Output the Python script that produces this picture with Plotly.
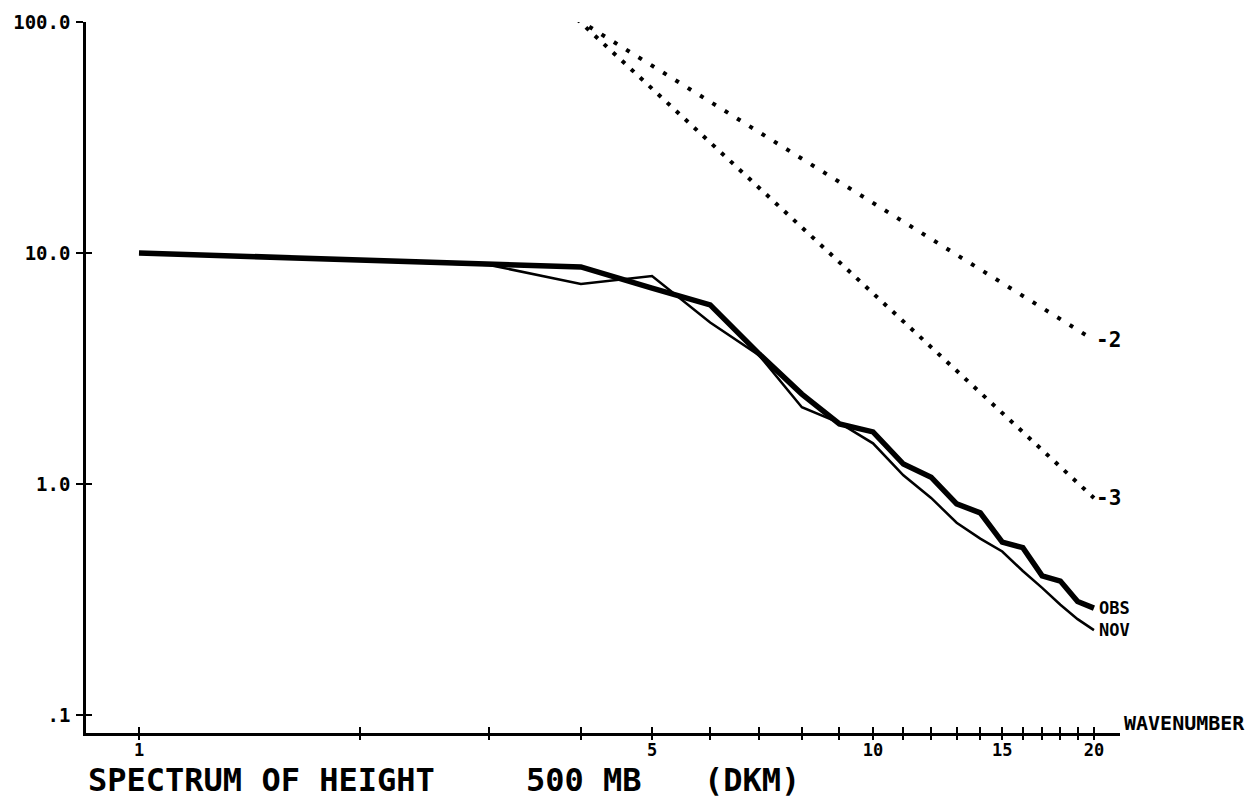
import numpy as np
import plotly.graph_objects as go

# ---- data ----
wavenumber = list(range(1, 21))
obs = [10.0, 9.3, 8.95, 8.7, 7.05, 5.96, 3.65, 2.45, 1.82, 1.68,
       1.22, 1.07, 0.82, 0.75, 0.56, 0.53, 0.40, 0.38, 0.31, 0.29]
nov = [10.0, 9.3, 8.87, 7.35, 7.95, 5.0, 3.6, 2.15, 1.84, 1.5,
       1.09, 0.87, 0.68, 0.58, 0.51, 0.42, 0.355, 0.30, 0.26, 0.233]

slope_x = [3.95, 20]
slope_m2 = [103, 4.2]
slope_m3 = [103, 0.87]

x_tickvals = list(range(1, 21))
x_ticktext = [str(k) if k in (1, 5, 10, 15, 20) else "" for k in x_tickvals]
y_tickvals = [0.1, 1, 10, 100]
y_ticktext = [".1", "1.0", "10.0", "100.0"]

FONT = "DejaVu Sans Mono"
X_RANGE = [-0.0722, 1.3365]
Y_RANGE = [-1.078, 2.0]

fig = go.Figure()

fig.add_trace(go.Scatter(x=slope_x, y=slope_m2, mode="lines",
                         line=dict(color="black", width=4, dash="4px,10.5px"),
                         showlegend=False, hoverinfo="skip"))
fig.add_trace(go.Scatter(x=slope_x, y=slope_m3, mode="lines",
                         line=dict(color="black", width=4, dash="4px,8.3px"),
                         showlegend=False, hoverinfo="skip"))
fig.add_trace(go.Scatter(x=wavenumber, y=nov, mode="lines",
                         line=dict(color="black", width=2.5),
                         showlegend=False))
fig.add_trace(go.Scatter(x=wavenumber, y=obs, mode="lines",
                         line=dict(color="black", width=5.5),
                         showlegend=False))
# empty trace so the overlay axes (other half of the crossing ticks) are drawn
fig.add_trace(go.Scatter(x=[], y=[], xaxis="x2", yaxis="y2", showlegend=False))

fig.update_layout(
    width=1247, height=799, autosize=False,
    paper_bgcolor="white", plot_bgcolor="white",
    margin=dict(l=86, r=127, t=22, b=66),
    showlegend=False,
    xaxis=dict(type="log", range=X_RANGE, showgrid=False, zeroline=False,
               showline=True, linecolor="black", linewidth=2.5,
               ticks="inside", ticklen=6, tickwidth=2, tickcolor="black",
               tickvals=x_tickvals, ticktext=x_ticktext,
               tickfont=dict(family=FONT, size=17, color="black", weight="bold"),
               ticklabelstandoff=0),
    yaxis=dict(type="log", range=Y_RANGE, showgrid=False, zeroline=False,
               showline=True, linecolor="black", linewidth=2.5,
               ticks="outside", ticklen=7, tickwidth=2, tickcolor="black",
               tickvals=y_tickvals, ticktext=y_ticktext,
               tickfont=dict(family=FONT, size=19, color="black", weight="bold"),
               ticklabelstandoff=2),
    xaxis2=dict(type="log", range=X_RANGE, overlaying="x", anchor="y", side="bottom",
                showgrid=False, zeroline=False, showline=False,
                ticks="outside", ticklen=6, tickwidth=2, tickcolor="black",
                tickvals=x_tickvals, showticklabels=False),
    yaxis2=dict(type="log", range=Y_RANGE, overlaying="y", anchor="x", side="left",
                showgrid=False, zeroline=False, showline=False,
                ticks="inside", ticklen=6, tickwidth=2, tickcolor="black",
                tickvals=y_tickvals, showticklabels=False),
)

lab_font = dict(family=FONT, color="black", weight="bold")
TITLE_Y = -0.0661
annotations = [
    dict(x=np.log10(slope_x[-1]), y=np.log10(slope_m2[-1]), xref="x", yref="y",
         text="-2", showarrow=False, xanchor="left", yanchor="middle", xshift=0,
         font=dict(size=21, **lab_font)),
    dict(x=np.log10(slope_x[-1]), y=np.log10(slope_m3[-1]), xref="x", yref="y",
         text="-3", showarrow=False, xanchor="left", yanchor="middle", xshift=0,
         font=dict(size=21, **lab_font)),
    dict(x=np.log10(wavenumber[-1]), y=np.log10(obs[-1]), xref="x", yref="y",
         text="OBS", showarrow=False, xanchor="left", yanchor="middle", xshift=3,
         font=dict(size=17, **lab_font)),
    dict(x=np.log10(wavenumber[-1]), y=np.log10(nov[-1]), xref="x", yref="y",
         text="NOV", showarrow=False, xanchor="left", yanchor="middle", xshift=3,
         font=dict(size=17, **lab_font)),
    dict(x=1, y=0, xref="paper", yref="paper", text="WAVENUMBER", showarrow=False,
         xanchor="left", yanchor="middle", xshift=2, yshift=10,
         font=dict(size=20, **lab_font)),
    dict(x=0, y=TITLE_Y, xref="paper", yref="paper", text="SPECTRUM OF HEIGHT",
         showarrow=False, xanchor="left", yanchor="middle",
         font=dict(size=32, **lab_font)),
    dict(x=0.4236, y=TITLE_Y, xref="paper", yref="paper", text="500 MB",
         showarrow=False, xanchor="left", yanchor="middle",
         font=dict(size=32, **lab_font)),
    dict(x=0.5957, y=TITLE_Y, xref="paper", yref="paper", text="(DKM)",
         showarrow=False, xanchor="left", yanchor="middle",
         font=dict(size=32, **lab_font)),
]
fig.update_layout(annotations=annotations)

fig.write_html("out.html",
               config={"displayModeBar": False},
               post_script="document.body.style.margin='0';document.body.style.overflow='hidden';")
